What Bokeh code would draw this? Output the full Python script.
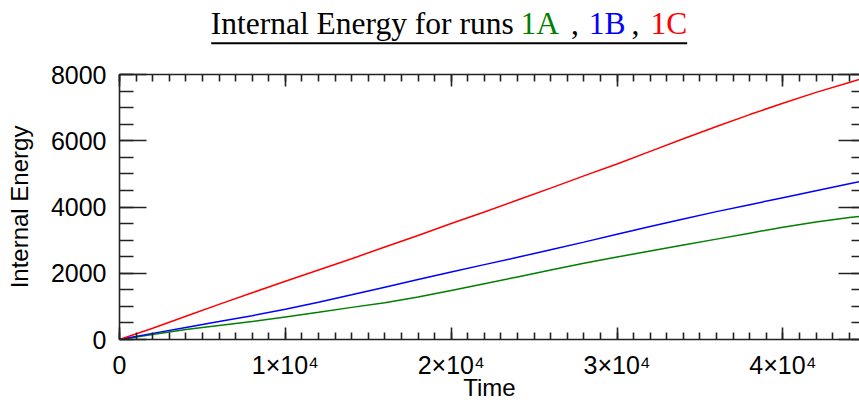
from bokeh.plotting import figure
from bokeh.layouts import column
from bokeh.models import Range1d, LinearAxis, FixedTicker, ColumnDataSource
from bokeh.core.properties import value
from bokeh.embed import file_html
from bokeh.resources import INLINE

# ---------------- data ----------------
time = [0, 2000, 4000, 6000, 8000, 10000, 12000, 14000, 16000, 18000, 20000,
        22000, 24000, 26000, 28000, 30000, 32000, 34000, 36000, 38000, 40000,
        42000, 44000, 45000]
energy_1a = [0, 150, 300, 420, 540, 680, 820, 970, 1110, 1280, 1480,
             1685, 1890, 2095, 2300, 2490, 2670, 2850, 3030, 3210, 3390,
             3550, 3680, 3740]
energy_1b = [0, 185, 365, 540, 720, 915, 1125, 1350, 1580, 1810, 2040,
             2260, 2480, 2710, 2940, 3175, 3410, 3640, 3860, 4070, 4280,
             4490, 4700, 4800]
energy_1c = [0, 340, 700, 1060, 1410, 1760, 2100, 2440, 2790, 3140, 3500,
             3850, 4210, 4570, 4940, 5300, 5680, 6060, 6430, 6790, 7130,
             7460, 7760, 7910]

x_major = [0, 10000, 20000, 30000, 40000]
x_labels = ["0", "1×10⁴", "2×10⁴", "3×10⁴", "4×10⁴"]
y_major = [0, 2000, 4000, 6000, 8000]
y_labels = ["0", "2000", "4000", "6000", "8000"]

title_parts = ["Internal Energy for runs", "1A", ",", "1B", ",", "1C"]
title_colors = ["black", "#008000", "black", "#0000ff", "black", "#ff0000"]
x_title = "Time"
y_title = "Internal Energy"

# ---------------- layout (pixels) ----------------
W = 859
LEFT = 119            # frame left edge
TITLE_H = 48          # title strip height
MAIN_H = 403 - TITLE_H
TOP_B, BOT_B = 26, 64
X_END = 44620
SANS = "Liberation Sans"
SERIF = "Liberation Serif"

# ---------------- title strip ----------------
pt = figure(width=W, height=TITLE_H, output_backend="svg",
            toolbar_location=None,
            x_range=Range1d(LEFT, W), y_range=Range1d(TITLE_H, 0),
            x_axis_type=None, y_axis_type=None,
            min_border_left=LEFT, min_border_right=0,
            min_border_top=0, min_border_bottom=0)
pt.outline_line_color = None
pt.grid.visible = False

title_x = [210.2, 519.9, 570.6, 588.3, 630.9, 649.9]
title_src = ColumnDataSource(dict(x=title_x, y=[22.7] * len(title_parts),
                                  text=title_parts, color=title_colors))
pt.text(x="x", y="y", text="text", text_color="color", source=title_src,
        text_font=value(SERIF), text_font_size="31.5px",
        text_align="left", text_baseline="middle")
pt.line(x=[210.7, 686.7], y=[42.85, 42.85], line_color="black", line_width=2)

# ---------------- main plot ----------------
x_minor = list(range(0, 45001, 1000))
y_minor = list(range(0, 8001, 500))

p = figure(width=W, height=MAIN_H, output_backend="svg", toolbar_location=None,
           x_range=Range1d(0, X_END), y_range=Range1d(0, 8000),
           x_axis_type=None, y_axis_type=None,
           min_border_left=LEFT, min_border_right=0,
           min_border_top=TOP_B, min_border_bottom=BOT_B)
p.outline_line_color = None

AX = "#222222"


def style_axis(ax, tick_major, tick_minor):
    ax.axis_line_color = AX
    ax.axis_line_width = 1.6
    ax.major_tick_line_color = AX
    ax.major_tick_line_width = 1.6
    ax.minor_tick_line_color = AX
    ax.minor_tick_line_width = 1.6
    ax.major_tick_in = tick_major
    ax.major_tick_out = 0
    ax.minor_tick_in = tick_minor
    ax.minor_tick_out = 0
    ax.major_label_text_font = SANS
    ax.major_label_text_font_size = "25px"
    ax.major_label_text_color = "black"
    ax.axis_label_text_font = SANS
    ax.axis_label_text_font_size = "24px"
    ax.axis_label_text_font_style = "normal"
    ax.axis_label_text_color = "black"


xb = LinearAxis(ticker=FixedTicker(ticks=x_major, minor_ticks=x_minor),
                major_label_overrides=dict(zip(x_major, x_labels)),
                axis_label=x_title)
style_axis(xb, 12, 7)
xb.major_label_standoff = 11
xb.axis_label_standoff = -8
p.add_layout(xb, "below")

xt = LinearAxis(ticker=FixedTicker(ticks=x_major, minor_ticks=x_minor),
                major_label_overrides={t: "" for t in x_major})
style_axis(xt, 12, 7)
xt.major_label_standoff = 0
p.add_layout(xt, "above")

yl = LinearAxis(ticker=FixedTicker(ticks=y_major, minor_ticks=y_minor),
                major_label_overrides=dict(zip(y_major, y_labels)),
                axis_label=y_title)
style_axis(yl, 27, 14)
yl.major_label_standoff = 13
yl.axis_label_standoff = 15
p.add_layout(yl, "left")

yr = LinearAxis(ticker=FixedTicker(ticks=y_major, minor_ticks=y_minor),
                major_label_overrides={t: "" for t in y_major})
style_axis(yr, 21, 8)
yr.axis_line_color = None
yr.major_label_standoff = 0
p.add_layout(yr, "right")

p.line(time, energy_1a, line_color="#007f00", line_width=1.5)
p.line(time, energy_1b, line_color="#0000ff", line_width=1.5)
p.line(time, energy_1c, line_color="#ff0000", line_width=1.5)

layout = column(pt, p, spacing=0)
open("out.html", "w").write(file_html(layout, INLINE))
